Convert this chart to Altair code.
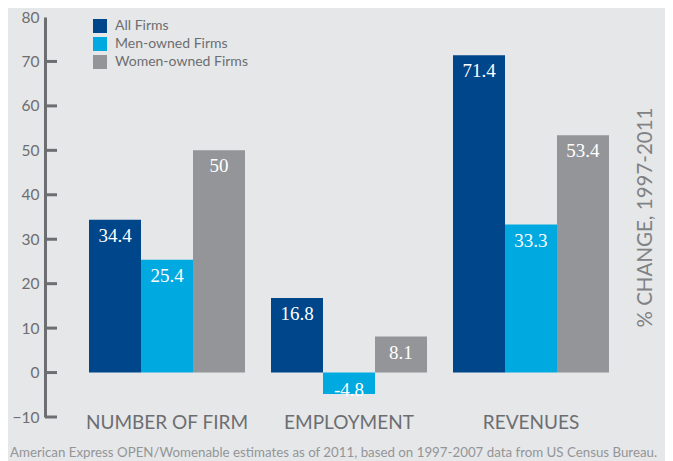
import altair as alt
import pandas as pd

categories = ["NUMBER OF FIRM", "EMPLOYMENT", "REVENUES"]
series = ["All Firms", "Men-owned Firms", "Women-owned Firms"]
all_firms = [34.4, 16.8, 71.4]
men_owned = [25.4, -4.8, 33.3]
women_owned = [50, 8.1, 53.4]
y_ticks = [-10, 0, 10, 20, 30, 40, 50, 60, 70, 80]
tick_marks = [-10, 0, 10, 20, 30, 40, 50, 60, 70]

colors = ["#00468b", "#00a9e0", "#939598"]
GRAY = "#6d6e71"

rows = []
for s, vals in zip(series, [all_firms, men_owned, women_owned]):
    for c, v in zip(categories, vals):
        rows.append({"category": c, "series": s, "value": v, "label": f"{v:g}"})
df = pd.DataFrame(rows)
ticks_df = pd.DataFrame({"value": tick_marks})

y_enc = alt.Y(
    "value:Q",
    scale=alt.Scale(domain=[-10, 80], nice=False, zero=False),
    axis=alt.Axis(
        values=y_ticks, grid=False, ticks=False, domain=True,
        domainColor=GRAY, domainWidth=3,
        labelFont="Lato", labelFontSize=15.5, labelColor=GRAY, labelPadding=6,
        title="% CHANGE, 1997-2011", titleAngle=270, titleX=600, titleY=200,
        titleAlign="center", titleBaseline="middle", titleFont="Lato",
        titleFontSize=20.5, titleFontWeight="normal", titleColor="#808285",
    ),
)

x_enc = alt.X(
    "category:N", sort=categories,
    scale=alt.Scale(paddingInner=0.1429, paddingOuter=0.2418),
    axis=alt.Axis(
        title=None, domain=False, ticks=False, labelAngle=0,
        labelFont="Lato", labelFontSize=19, labelColor=GRAY,
        labelBaseline="middle", labelPadding=5,
    ),
)
xoff = alt.XOffset("series:N", sort=series, scale=alt.Scale(paddingInner=0, paddingOuter=0))

bars = alt.Chart(df).mark_bar().encode(
    x=x_enc, xOffset=xoff, y=y_enc,
    color=alt.Color(
        "series:N", sort=series,
        scale=alt.Scale(domain=series, range=colors),
        legend=alt.Legend(
            title=None, orient="none", legendX=48, legendY=2,
            symbolType="square", symbolSize=196, symbolStrokeWidth=0,
            labelFont="Lato", labelFontSize=14, labelColor=GRAY,
            labelOffset=8, rowPadding=4,
        ),
    ),
)

text_pos = alt.Chart(df).transform_filter("datum.value >= 0").mark_text(
    baseline="middle", align="center", dy=16, color="white",
    font="Liberation Serif", fontSize=19,
).encode(x=x_enc, xOffset=xoff, y=y_enc, text="label:N")

text_neg = alt.Chart(df).transform_filter("datum.value < 0").mark_text(
    baseline="middle", align="center", dy=-4, color="white",
    font="Liberation Serif", fontSize=19,
).encode(x=x_enc, xOffset=xoff, y=y_enc, text="label:N")

tick_rules = alt.Chart(ticks_df).mark_rule(color=GRAY, strokeWidth=3).encode(
    x=alt.value(0), x2=alt.value(12), y=y_enc
)

chart = alt.layer(bars, text_pos, text_neg, tick_rules).properties(
    width=608, height=400,
    autosize="none",
    padding={"left": 37, "top": 9, "right": 12, "bottom": 44},
    background="#e6e7e8",
    title=alt.TitleParams(
        text="American Express OPEN/Womenable estimates as of 2011, based on 1997-2007 data from US Census Bureau.",
        orient="bottom", anchor="start", frame="group", dx=-35, offset=14,
        font="Lato", fontSize=13.3, fontWeight="normal", color="#939598",
    ),
).configure_view(stroke=None)

chart.save("out.html", embed_options={"renderer": "svg", "actions": False})
